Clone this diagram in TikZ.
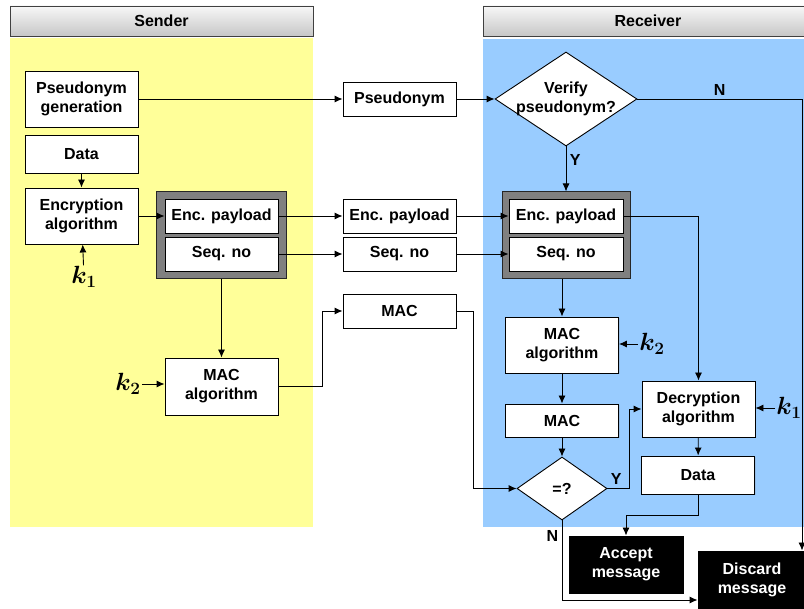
\documentclass[tikz,border=0pt]{standalone}
\usepackage[no-math]{fontspec}
\setmainfont{Liberation Sans}
\usepackage{bm}
\usetikzlibrary{arrows.meta,positioning,shapes.geometric,shadows}
\definecolor{sendyel}{HTML}{FFFF99}
\definecolor{recvblue}{HTML}{99CCFF}

\begin{document}
\begin{tikzpicture}[
  x=1pt,y=-1pt,
  font=\fontsize{16}{19}\selectfont\bfseries,
  box/.style={draw,fill=white,align=center,minimum width=113pt,minimum height=34pt,
    inner sep=1pt,line width=0.9pt,
    drop shadow={opacity=0.2,shadow xshift=1.2pt,shadow yshift=-1.2pt}},
  tall/.style={box,minimum height=56pt},
  cont/.style={draw=black!85,fill=black!50,line width=1pt,minimum width=130pt,
    minimum height=87pt,inner sep=0pt},
  decision/.style={diamond,draw,fill=white,align=center,inner sep=-14pt,line width=0.9pt},
  term/.style={box,fill=black,text=white,minimum width=114pt,minimum height=57pt},
  hdr/.style={draw=black!75,top color=black!3,bottom color=black!22,minimum height=30pt,
    line width=0.9pt},
  key/.style={font=\fontsize{23}{26}\selectfont,inner sep=1pt},
  arr/.style={-{Latex[length=8pt,width=7pt]},line width=0.9pt}
]
\useasboundingbox (0,0) rectangle (804,609);
\fill[sendyel] (10,38) rectangle (313,527);
\fill[recvblue] (483,39) rectangle (804,527);
\node[hdr,minimum width=303pt] (sendhdr) at (161.5,21) {Sender};
\node[hdr,minimum width=330pt] (recvhdr) at (648,21) {Receiver};

\node[tall] (pgen) at (81.5,99) {Pseudonym\\generation};
\node[box,minimum height=38pt] (sdata) at (81.5,154) {Data};
\node[tall] (enc) at (81.5,216) {Encryption\\algorithm};
\node[key] (sk1) at (84,277) {$\bm{k_1}$};
\node[cont] (scont) at (221.5,235.5) {};
\node[box] (spay) at (221.5,216) {Enc. payload};
\node[box] (sseq) at (221.5,254) {Seq. no};
\node[tall,minimum height=57pt] (smac) at (221.5,386.5) {MAC\\algorithm};
\node[key] (sk2) at (128,384) {$\bm{k_2}$};

\node[box] (pseu) at (399.5,99) {Pseudonym};
\node[box] (mpay) at (399.5,216) {Enc. payload};
\node[box] (mseq) at (399.5,254) {Seq. no};
\node[box] (mmac) at (399.5,311) {MAC};

\node[decision,minimum width=142pt,minimum height=94pt] (verify) at (566,99) {Verify\\pseudonym?};
\node[cont,minimum width=128pt] (rcont) at (566,235.5) {};
\node[box,minimum width=114pt] (rpay) at (566,216) {Enc. payload};
\node[box,minimum width=114pt] (rseq) at (566,254) {Seq. no};
\node[tall] (rmac) at (562,345) {MAC\\algorithm};
\node[key] (rk2) at (652,344) {$\bm{k_2}$};
\node[box,minimum height=33pt] (rmacv) at (562,420.5) {MAC};
\node[tall] (decr) at (698.5,409) {Decryption\\algorithm};
\node[key] (rk1) at (789,408) {$\bm{k_1}$};
\node[box,minimum height=38pt] (rdata) at (698,475) {Data};
\node[decision,minimum width=90pt,minimum height=63pt] (eq) at (562,488.5) {=?};
\node[term] (accept) at (626,564.5) {Accept\\message};
\node[term,minimum width=108pt,minimum height=58pt] (discard) at (752,580) {Discard\\message};
\coordinate (nright) at (802,99);

\draw[arr] (pgen) -- (pseu);
\draw[arr] (pseu) -- (verify);
\draw[arr] (sdata) -- (enc);
\draw[arr] (sk1) -- (enc);
\draw[arr] (enc) -- (spay);
\draw[arr] (spay) -- (mpay);
\draw[arr] (sseq) -- (mseq);
\draw[arr] (scont.south) -- (smac.north);
\draw[arr] (sk2) -- (sk2 -| smac.west);
\draw[arr] (smac.east) -- ++(44,0) |- (mmac.west);
\draw[arr] (mpay) -- (rpay);
\draw[arr] (mseq) -- (rseq);
\draw[arr] (verify.south) -- node[pos=0.3,right]{Y} (rcont.north);
\draw[arr] (verify.east) -- node[above]{N} (nright) -- (nright |- discard.north);
\draw[arr] (rpay.east) -| (decr.north);
\draw[arr] (rmac.north |- rcont.south) -- (rmac.north);
\draw[arr] (rk2) -- (rk2 -| rmac.east);
\draw[arr] (rmac) -- (rmacv);
\draw[arr] (rmacv) -- (eq);
\draw[arr] (mmac.east) -- ++(17,0) |- (eq.west);
\draw[arr] (eq.east) -- node[pos=0.4,above]{Y} ++(22,0) |- (decr.west);
\draw[arr] (decr) -- (rdata);
\draw[arr] (rk1) -- (rk1 -| decr.east);
\draw[arr] (rdata.south) -- ++(0,21) -| (accept.north);
\draw[arr] (eq.south) |- node[pos=0.1,left]{N} ([yshift=-20pt]discard.west);
\end{tikzpicture}
\end{document}
